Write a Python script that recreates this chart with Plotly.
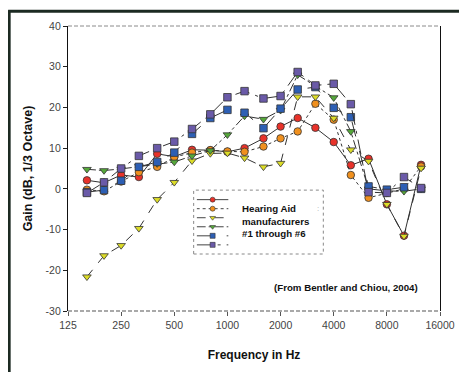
import plotly.graph_objects as go
import math

# ---------------- data ----------------
freqs = [160, 200, 250, 315, 400, 500, 630, 800, 1000, 1250, 1600, 2000,
         2500, 3150, 4000, 5000, 6300, 8000, 10000, 12500]

mfr1 = [2.1, 1.5, 3.4, 2.9, 8.6, 7.9, 9.6, 9.5, 9.1, 10.0, 12.4, 15.3,
        17.4, 15.0, 11.5, 5.8, 7.4, -3.8, -11.5, 5.9]
mfr2 = [-0.2, -0.6, 1.8, 4.1, 5.4, 7.8, 8.9, 9.5, 9.2, 9.1, 10.4, 12.4,
        14.1, 20.9, 17.0, 3.4, -2.2, -1.0, 0.0, 5.5]
mfr3 = [-21.6, -16.4, -13.9, -9.7, -2.6, 1.6, 6.9, 8.7, 8.8, 7.6, 5.4, 6.3,
        22.6, 22.6, 17.4, 9.6, 6.8, -3.8, -11.6, 5.1]
mfr4 = [4.8, 4.5, 4.9, 5.5, 6.2, 6.6, 8.1, 9.4, 13.3, 17.9, 17.1, 19.3,
        28.0, 25.2, 22.4, 14.1, 0.0, -0.5, -0.6, 0.0]
mfr5 = [-0.8, -0.3, 2.0, 5.4, 6.6, 8.9, 13.5, 17.4, 19.4, 18.7, 14.9, 19.7,
        24.4, 25.0, 19.9, 17.6, 0.6, -0.2, 0.4, 0.0]
mfr6 = [-1.0, 1.6, 5.0, 8.1, 10.0, 11.6, 14.7, 18.3, 22.5, 24.0, 22.2, 22.8,
        28.7, 25.4, 25.8, 20.8, -0.8, -1.0, 2.9, 0.2]

series = [mfr1, mfr2, mfr3, mfr4, mfr5, mfr6]
series_names = ["Manufacturer #1", "Manufacturer #2", "Manufacturer #3",
                "Manufacturer #4", "Manufacturer #5", "Manufacturer #6"]

x_tick_vals = [125, 250, 500, 1000, 2000, 4000, 8000, 16000]
x_tick_text = ["125", "250", "500", "1000", "2000", "4000", "8000", "16000"]
y_tick_vals = [-30, -20, -10, 0, 10, 20, 30, 40]
y_tick_text = ["-30", "-20", "-10", "0", "10", "20", "30", "40"]

legend_text = "Hearing Aid<br>manufacturers<br>#1 through #6"
source_text = "(From Bentler and Chiou, 2004)"

# ---------------- styles ----------------
marker_colors = ["#e8322a", "#f0901e", "#dcdc28", "#55a83a", "#2d5fb4", "#6a5aa8"]
symbols = ["circle", "circle", "triangle-down", "triangle-down", "square", "square"]
dashes = ["solid", "dot", "dash", "dashdot", "longdash", "longdashdot"]
line_color = "#333333"
FONT = "Liberation Sans, Arial, sans-serif"

# page body has an 8px default margin; figure is sized to fill the rest
OFF = 8
W, H = 467 - OFF, 372 - OFF
ML, MT = 68 - OFF, 25 - OFF
PW, PH = 373, 290
MR = W - ML - PW
MB = H - MT - PH


def px_x(p):
    """page x pixel -> paper coordinate"""
    return (p - OFF - ML) / PW


def px_y(p):
    """page y pixel -> paper coordinate"""
    return (MT + PH - (p - OFF)) / PH


fig = go.Figure()

for vals, name, col, sym, dsh in zip(series, series_names, marker_colors, symbols, dashes):
    fig.add_trace(go.Scatter(
        x=freqs, y=vals, name=name, mode="lines+markers",
        line=dict(color=line_color, width=1, dash=dsh),
        marker=dict(symbol=sym, size=7.5, color=col,
                    line=dict(color="#333333", width=0.8)),
        showlegend=False,
    ))

# legend key samples on a small hidden axis pair
for i, (col, sym, dsh) in enumerate(zip(marker_colors, symbols, dashes)):
    fig.add_trace(go.Scatter(
        x=[0, 1, 2], y=[i, i, i], mode="lines+markers",
        xaxis="x2", yaxis="y2", showlegend=False, hoverinfo="skip",
        line=dict(color="#444444", width=1, dash=dsh),
        marker=dict(symbol=sym, size=5, color=col, opacity=[0, 1, 0],
                    line=dict(color="#333333", width=0.6)),
    ))

lx0, lx1 = px_x(197), px_x(229)
ly_top, ly_bot = px_y(197.1), px_y(252.3)

shapes = [
    # legend box
    dict(type="rect", xref="paper", yref="paper",
         x0=px_x(194), x1=px_x(324), y0=px_y(257), y1=px_y(192),
         line=dict(color="#888888", width=1, dash="dot"),
         fillcolor="white", layer="below"),
    # top & bottom plot borders (dashed)
    dict(type="line", xref="paper", yref="paper", x0=0, x1=1, y0=1, y1=1,
         line=dict(color="#8a8a8a", width=1, dash="4px,2px")),
    dict(type="line", xref="paper", yref="paper", x0=0, x1=1, y0=0, y1=0,
         line=dict(color="#555555", width=1.2, dash="4px,2px")),
    # outer frame
    dict(type="line", xref="paper", yref="paper",
         x0=px_x(9), x1=px_x(9), y0=px_y(380), y1=px_y(9),
         line=dict(color="#1c2a22", width=3)),
    dict(type="line", xref="paper", yref="paper",
         x0=px_x(8), x1=px_x(470), y0=px_y(10), y1=px_y(10),
         line=dict(color="#1c2a22", width=3)),
    dict(type="line", xref="paper", yref="paper",
         x0=px_x(465), x1=px_x(465), y0=px_y(380), y1=px_y(10),
         line=dict(color="#aaaaaa", width=1)),
]

annotations = [
    dict(xref="paper", yref="paper", x=px_x(240), y=px_y(223.5),
         xanchor="left", yanchor="middle", align="left", showarrow=False,
         text="<b>" + legend_text + "</b>",
         font=dict(family=FONT, size=9.7, color="#111111")),
    dict(xref="paper", yref="paper", x=px_x(319), y=px_y(211),
         xanchor="center", yanchor="middle", showarrow=False,
         text=":", font=dict(family=FONT, size=8, color="#aaaaaa")),
    dict(xref="paper", yref="paper", x=px_x(421), y=px_y(291),
         xanchor="right", yanchor="middle", showarrow=False,
         text="<b>" + source_text + "</b>",
         font=dict(family=FONT, size=9.7, color="#111111")),
]

fig.update_layout(
    width=W, height=H,
    margin=dict(l=ML, r=MR, t=MT, b=MB, pad=0),
    paper_bgcolor="white", plot_bgcolor="white",
    font=dict(family=FONT, color="#333333"),
    showlegend=False,
    xaxis=dict(
        type="log", range=[math.log10(125), math.log10(16000)],
        tickvals=x_tick_vals, ticktext=x_tick_text,
        ticks="outside", ticklen=4, tickcolor="#555555",
        showgrid=False, zeroline=False, showline=False,
        tickfont=dict(family=FONT, size=10.5, color="#444444"),
        title=dict(text="<b>Frequency in Hz</b>", standoff=21,
                   font=dict(family=FONT, size=12, color="#111111")),
    ),
    yaxis=dict(
        range=[-30, 40], tickvals=y_tick_vals, ticktext=y_tick_text,
        ticks="outside", ticklen=4, tickcolor="#222222",
        showgrid=False, zeroline=False,
        showline=True, linecolor="#111111", linewidth=1.2, mirror=True,
        tickfont=dict(family=FONT, size=10.5, color="#444444"),
        title=dict(text="<b>Gain (dB, 1/3 Octave)</b>", standoff=10,
                   font=dict(family=FONT, size=12.5, color="#111111")),
    ),
    xaxis2=dict(domain=[lx0, lx1], range=[0, 2], anchor="y2",
                visible=False, fixedrange=True),
    yaxis2=dict(domain=[ly_bot, ly_top], range=[5.5, -0.5], anchor="x2",
                visible=False, fixedrange=True),
    shapes=shapes,
    annotations=annotations,
)

fig.write_html("out.html")
